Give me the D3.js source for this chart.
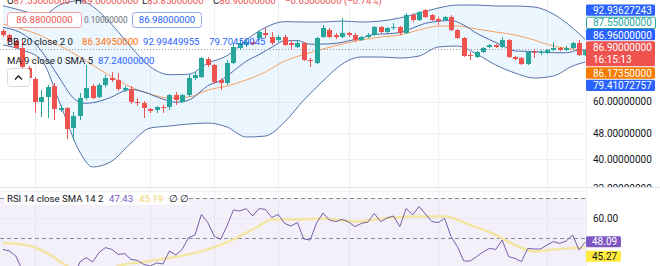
<!DOCTYPE html>
<html>
<head>
<meta charset="utf-8">
<script src="https://cdn.jsdelivr.net/npm/d3@7"></script>
<style>
  html, body { margin: 0; padding: 0; background: #fff; }
  svg { display: block; font-family: Roboto, "Liberation Sans", sans-serif; }
</style>
</head>
<body>
<svg id="chart" width="660" height="266"></svg>
<script>
var opens = [98.73, 95.98, 92.01, 87.58, 76.08, 70.41, 59.87, 62.02, 67.02, 56.60, 57.41, 49.86, 54.26, 61.58, 67.02, 62.02, 67.49, 70.91, 69.91, 65.16,
  65.62, 59.87, 59.45, 57.00, 56.60, 57.81, 57.81, 62.90, 59.87, 62.90, 70.91, 71.41, 81.06, 77.70, 69.91, 68.46, 78.80, 87.58, 89.45, 91.36,
  93.98, 97.35, 94.64, 92.65, 94.64, 90.72, 88.20, 90.72, 80.48, 78.80, 94.64, 99.42, 95.98, 94.64, 97.35, 95.98, 92.65, 94.64, 95.98, 101.55,
  98.04, 100.84, 101.55, 97.35, 110.49, 106.67, 114.45, 110.49, 107.43, 106.67, 108.95, 99.42, 93.98, 83.37, 82.21, 85.15, 88.20, 89.45, 88.20, 92.65,
  82.21, 81.63, 78.25, 85.15, 84.55, 84.55, 86.36, 87.58, 86.36, 87.58, 90.72, 83.37];
var highs = [100.13, 96.66, 92.65, 92.65, 77.16, 71.41, 65.16, 67.49, 68.46, 58.63, 57.81, 55.81, 63.80, 77.70, 67.97, 68.46, 72.42, 73.96, 73.44, 67.02,
  67.02, 61.58, 60.30, 57.41, 58.22, 58.63, 63.35, 64.25, 63.35, 72.42, 73.96, 82.21, 82.21, 78.25, 70.91, 80.48, 90.72, 92.65, 92.65, 92.65,
  99.42, 100.84, 98.04, 95.98, 95.98, 92.65, 92.65, 91.36, 81.63, 94.64, 102.98, 100.84, 97.35, 108.19, 98.04, 97.35, 95.31, 97.35, 102.26, 102.26,
  101.55, 104.44, 102.26, 112.05, 112.05, 113.65, 115.25, 111.28, 108.95, 109.72, 110.49, 100.13, 94.64, 85.15, 85.75, 88.20, 90.08, 90.08, 94.64, 93.32,
  82.79, 82.21, 85.75, 86.97, 86.36, 86.97, 91.36, 88.20, 88.82, 91.36, 92.65, 86.36];
var lows = [94.64, 91.36, 87.20, 75.01, 69.91, 55.42, 53.88, 53.50, 52.75, 55.81, 46.14, 45.82, 52.75, 60.73, 61.15, 61.58, 66.55, 68.94, 64.70, 64.25,
  59.04, 58.22, 53.50, 55.42, 55.42, 55.42, 56.60, 58.63, 59.45, 62.02, 69.91, 70.91, 76.62, 67.97, 65.16, 67.49, 78.25, 86.36, 88.20, 89.45,
  92.65, 93.98, 89.45, 91.36, 88.82, 86.36, 87.58, 79.92, 76.62, 78.25, 93.98, 93.98, 93.32, 93.98, 94.64, 91.36, 92.01, 93.98, 95.31, 97.35,
  97.35, 99.42, 95.98, 96.66, 105.18, 105.92, 108.19, 105.92, 102.98, 105.92, 98.73, 93.32, 82.21, 80.48, 81.63, 84.55, 87.58, 87.58, 87.58, 81.63,
  80.48, 77.70, 77.70, 81.63, 83.37, 83.96, 85.75, 85.75, 85.75, 86.97, 82.79, 82.79];
var closes = [95.98, 92.01, 87.58, 76.62, 70.91, 59.87, 62.02, 66.55, 57.00, 57.41, 49.51, 54.26, 61.58, 66.08, 61.58, 67.49, 70.91, 69.91, 65.62, 66.08,
  59.87, 59.70, 57.41, 56.21, 57.81, 57.41, 62.90, 60.73, 62.90, 70.91, 72.42, 81.63, 77.70, 68.94, 68.46, 78.80, 88.20, 90.72, 91.36, 90.08,
  98.04, 95.98, 90.72, 94.64, 89.45, 89.45, 90.72, 80.48, 80.20, 93.98, 100.84, 94.64, 94.64, 97.35, 95.98, 92.65, 94.64, 95.98, 101.55, 98.04,
  100.84, 101.55, 97.35, 110.49, 106.67, 112.85, 108.95, 106.67, 105.92, 108.95, 99.42, 93.98, 82.79, 83.10, 85.15, 87.58, 89.45, 88.20, 92.65, 82.21,
  81.06, 78.25, 85.15, 84.55, 85.15, 86.36, 87.58, 86.36, 87.58, 90.72, 83.37, 85.75];

// Bollinger bands at these bars
var bandIdx = [0, 3, 6, 9, 12, 14, 17, 20, 23, 26, 29, 32, 35, 38, 41, 44, 47, 50, 53, 56, 59, 62, 65, 68, 71, 74, 77, 80, 83, 86, 89, 91];
var bbUpper = [118.0, 113.9, 110.1, 119.0, 122.3, 117.5, 103.3, 88.2, 76.8, 72.6, 72.8, 78.7, 83.0, 92.8, 101.2, 105.5,
  105.18, 105.18, 105.92, 105.18, 105.92, 108.19, 112.05, 116.07, 118.55, 118.55, 117.72, 117.72, 116.89, 111.28, 100.84, 92.94];
var bbBasis = [103.71, 100.13, 95.31, 88.82, 82.21, 77.70, 71.41, 66.55, 63.35, 61.58, 62.02, 65.16, 67.02, 69.91, 73.96, 79.92,
  83.66, 86.97, 90.08, 92.65, 94.64, 95.98, 99.42, 102.26, 102.26, 100.13, 98.04, 95.98, 92.65, 88.82, 86.97, 86.17];
var bbLower = [89.45, 86.36, 80.48, 58.63, 42.1, 37.9, 39.5, 44.86, 49.86, 50.56, 51.28, 51.64, 50.21, 46.80, 47.13, 52.01,
  60.73, 69.43, 78.25, 82.21, 82.21, 81.63, 82.79, 88.20, 88.82, 83.96, 77.70, 73.44, 70.91, 71.91, 77.16, 79.41];

var maIdx = [0, 2, 3, 5, 7, 9, 11, 12, 13, 15, 17, 19, 20, 22, 25, 27, 29, 31, 32, 34, 36, 38, 40, 42, 44, 46, 48, 50, 52, 54,
  56, 58, 60, 62, 64, 66, 68, 70, 72, 74, 76, 78, 80, 82, 84, 86, 88, 90, 91];
var maValues = [101.3, 99.0, 97.0, 90.5, 80.5, 70.0, 61.57, 59.8, 59.36, 60.16, 62.08, 64.83, 65.46, 64.29, 61.1, 59.79, 60.66, 64.77, 67.16, 69.62,
  74.44, 79.8, 83.59, 88.04, 92.13, 92.27, 89.96, 90.05, 90.49, 92.09, 93.88, 96.47, 96.85, 97.62, 100.79, 104.25, 105.7, 106.36, 102.91, 97.2,
  92.93, 89.15, 85.8, 85.52, 85.19, 84.77, 84.67, 86.31, 86.38];

var rsiValues = [44.3, 43.5, 41, 34, 28, 22, 26, 30, 25, 26, 21, 28, 38, 40.2, 38, 42.7, 45.2, 44.3, 41.8, 42.2,
  39.3, 38.8, 36.8, 36, 37.5, 37, 43.5, 41.5, 44.3, 50.2, 51.5, 61.8, 57.7, 51, 49.3, 56, 64, 63.5, 64.7, 61,
  64.7, 64.3, 60.2, 61.8, 57.3, 56, 57.7, 49.5, 49, 57.5, 62.5, 59, 58.2, 59.3, 58, 55.7, 57.3, 58, 62.3, 58.2,
  60, 61, 55.7, 64.8, 61.5, 65.7, 62, 58.2, 57.7, 59.8, 50.7, 45.7, 38.5, 38.5, 40.7, 43, 44.8, 44.3, 49, 40.7,
  39.8, 38.2, 44.8, 44.5, 44.5, 46.5, 48.2, 47.3, 48.5, 51.5, 44, 48.09];
var rsiMaIdx = [0, 4, 7, 10, 13, 16, 18, 23, 28, 32, 36, 40, 42, 46, 50, 55, 60, 66, 69, 73, 77, 80, 83, 87, 91];
var rsiMaValues = [47.5, 46.2, 42.3, 36, 32, 33, 36, 38.5, 41.2, 44.3, 49.3, 56, 59.3, 59.3, 59.8, 58.2, 60, 60.7, 60.7, 56.5, 51.5, 46.5, 43.3, 44.5, 45.27];

var priceTicks = [60, 48, 40, 32];
var timeTicks = [5, 23, 33, 43, 54, 68, 85];
var rsiLevels = [70, 50, 30];
var rsiTicks = [60];
var priceMarks = [92.93627243, 87.55, 86.96, 86.90, 86.1735, 79.41072757];
var rsiMarks = [48.09, 45.27];
var countdown = '16:15:13';
var bidAsk = [86.88, 0.10, 86.98];
var ohlc = [['O', 87.55], ['H', 89.00], ['L', 85.85], ['C', 86.90]];
var change = [-0.65, -0.74];
var bbLegend = [86.3495, 92.99449955, 79.70450045];
var maLegend = 87.24;
var rsiLegend = [47.43, 45.19];

var PLOT_RIGHT = 586;
var PRICE_BOTTOM = 187;
var UP = '#26a69a', DOWN = '#ef5350';
var BLUE = '#2962ff', BAND = '#5674a8', ORANGE = '#f7a25e';
var TEXT = '#131722';
var fmt8 = d3.format('.8f'), fmt2 = d3.format('.2f');

var svg = d3.select('#chart');

var x = d3.scaleLinear().domain([0, closes.length - 1]).range([3, 585.4]);
var y = d3.scaleLog().domain([32, 120]).range([191, 3.3]);
var yRsi = d3.scaleLinear().domain([30, 70]).range([278, 198]);

svg.append('clipPath').attr('id', 'clipPrice').append('rect')
  .attr('x', 0).attr('y', 0).attr('width', PLOT_RIGHT).attr('height', PRICE_BOTTOM);
svg.append('clipPath').attr('id', 'clipRsi').append('rect')
  .attr('x', 0).attr('y', PRICE_BOTTOM).attr('width', PLOT_RIGHT).attr('height', 266 - PRICE_BOTTOM);
svg.append('clipPath').attr('id', 'clipAxis').append('rect')
  .attr('x', PLOT_RIGHT).attr('y', 0).attr('width', 660 - PLOT_RIGHT).attr('height', PRICE_BOTTOM);

// grid
var grid = svg.append('g').attr('stroke', '#eef0f4').attr('stroke-width', 1);
grid.selectAll('.vgrid').data(timeTicks).enter().append('line')
  .attr('x1', function(d) { return Math.round(x(d)) + 0.5; })
  .attr('x2', function(d) { return Math.round(x(d)) + 0.5; })
  .attr('y1', 0).attr('y2', 266);
grid.selectAll('.hgrid').data(priceTicks).enter().append('line')
  .attr('x1', 0).attr('x2', PLOT_RIGHT)
  .attr('y1', function(d) { return Math.round(y(d)) + 0.5; })
  .attr('y2', function(d) { return Math.round(y(d)) + 0.5; });

// price pane
var price = svg.append('g').attr('clip-path', 'url(#clipPrice)');

var bands = bandIdx.map(function(d, i) {
  return { i: d, up: bbUpper[i], mid: bbBasis[i], lo: bbLower[i] };
});
var curve = d3.curveMonotoneX;

price.append('path')
  .datum(bands)
  .attr('fill', 'rgba(33,150,243,0.09)')
  .attr('d', d3.area().curve(curve)
    .x(function(d) { return x(d.i); })
    .y0(function(d) { return y(d.lo); })
    .y1(function(d) { return y(d.up); }));

['up', 'lo'].forEach(function(k) {
  price.append('path')
    .datum(bands)
    .attr('fill', 'none')
    .attr('stroke', BAND)
    .attr('stroke-width', 1)
    .attr('d', d3.line().curve(curve)
      .x(function(d) { return x(d.i); })
      .y(function(d) { return y(d[k]); }));
});

price.append('path')
  .datum(bands)
  .attr('fill', 'none')
  .attr('stroke', ORANGE)
  .attr('stroke-width', 1)
  .attr('d', d3.line().curve(curve)
    .x(function(d) { return x(d.i); })
    .y(function(d) { return y(d.mid); }));

price.append('path')
  .datum(maIdx.map(function(d, i) { return [d, maValues[i]]; }))
  .attr('fill', 'none')
  .attr('stroke', '#4d6aa8')
  .attr('stroke-width', 1)
  .attr('d', d3.line().curve(curve)
    .x(function(d) { return x(d[0]); })
    .y(function(d) { return y(d[1]); }));

// dotted price line
price.append('line')
  .attr('x1', 0).attr('x2', PLOT_RIGHT)
  .attr('y1', Math.round(y(priceMarks[2])) + 0.5)
  .attr('y2', Math.round(y(priceMarks[2])) + 0.5)
  .attr('stroke', '#9598a1')
  .attr('stroke-dasharray', '1,2');

// candles
var candles = closes.map(function(c, i) {
  return { i: i, o: opens[i], h: highs[i], l: lows[i], c: c };
});
var candle = price.selectAll('.candle')
  .data(candles)
  .enter()
  .append('g')
  .attr('class', 'candle')
  .attr('fill', function(d) { return d.c >= d.o ? UP : DOWN; })
  .attr('stroke', function(d) { return d.c >= d.o ? UP : DOWN; });

candle.append('line')
  .attr('x1', function(d) { return Math.round(x(d.i)) + 0.5; })
  .attr('x2', function(d) { return Math.round(x(d.i)) + 0.5; })
  .attr('y1', function(d) { return y(d.h); })
  .attr('y2', function(d) { return y(d.l); })
  .attr('stroke-width', 1);

candle.append('rect')
  .attr('stroke', 'none')
  .attr('x', function(d) { return Math.round(x(d.i)) - 2; })
  .attr('width', 5)
  .attr('y', function(d) { return y(Math.max(d.o, d.c)); })
  .attr('height', function(d) { return Math.max(1, Math.abs(y(d.o) - y(d.c))); });

// rsi pane
var rsi = svg.append('g').attr('clip-path', 'url(#clipRsi)');

rsi.append('rect')
  .attr('x', 0).attr('width', PLOT_RIGHT)
  .attr('y', yRsi(70)).attr('height', yRsi(30) - yRsi(70))
  .attr('fill', 'rgba(126,87,194,0.09)');

rsi.selectAll('.rgrid').data(rsiTicks).enter().append('line')
  .attr('x1', 0).attr('x2', PLOT_RIGHT)
  .attr('y1', function(d) { return Math.round(yRsi(d)) + 0.5; })
  .attr('y2', function(d) { return Math.round(yRsi(d)) + 0.5; })
  .attr('stroke', '#ebe8f3');

rsi.selectAll('.level').data(rsiLevels).enter().append('line')
  .attr('x1', 0).attr('x2', PLOT_RIGHT)
  .attr('y1', function(d) { return Math.round(yRsi(d)) + 0.5; })
  .attr('y2', function(d) { return Math.round(yRsi(d)) + 0.5; })
  .attr('stroke', '#8a8d96')
  .attr('stroke-dasharray', '4,3');

rsi.append('path')
  .datum(rsiMaIdx.map(function(d, i) { return [d, rsiMaValues[i]]; }))
  .attr('fill', 'none')
  .attr('stroke', '#f3e6a2')
  .attr('stroke-width', 2.5)
  .attr('d', d3.line().curve(curve)
    .x(function(d) { return x(d[0]); })
    .y(function(d) { return yRsi(d[1]); }));

rsi.append('path')
  .datum(rsiValues)
  .attr('fill', 'none')
  .attr('stroke', '#7460a8')
  .attr('stroke-width', 1)
  .attr('d', d3.line()
    .x(function(d, i) { return x(i); })
    .y(function(d) { return yRsi(d); }));

// legends
var legend = svg.append('g').attr('font-size', '9.6px');

// header row: letters dark, values red
var headX = [7, 75, 142, 213];
ohlc.forEach(function(d, i) {
  var t = legend.append('text').attr('x', headX[i]).attr('y', 4).attr('fill', DOWN);
  t.append('tspan').attr('fill', TEXT).text(d[0]);
  t.append('tspan').text(fmt8(d[1]));
});
legend.append('text').attr('x', 285).attr('y', 4).attr('fill', DOWN)
  .text(fmt8(change[0]).replace('-', '\u2212') + ' (' + fmt2(change[1]).replace('-', '\u2212') + '%)');

legend.append('rect')
  .attr('x', 7.5).attr('y', 12.5).attr('width', 74).attr('height', 15).attr('rx', 3)
  .attr('fill', '#fff').attr('stroke', '#f2a3a1');
legend.append('text')
  .attr('x', 44.5).attr('y', 20).attr('dy', '0.35em').attr('text-anchor', 'middle')
  .attr('fill', DOWN).text(fmt8(bidAsk[0]));
legend.append('text')
  .attr('x', 84).attr('y', 20).attr('dy', '0.35em')
  .attr('font-size', '8.2px').attr('fill', '#6a6d78').text(fmt8(bidAsk[1]));
legend.append('rect')
  .attr('x', 132.5).attr('y', 12.5).attr('width', 69).attr('height', 15).attr('rx', 3)
  .attr('fill', '#fff').attr('stroke', '#93a9ee');
legend.append('text')
  .attr('x', 167).attr('y', 20).attr('dy', '0.35em').attr('text-anchor', 'middle')
  .attr('fill', BLUE).text(fmt8(bidAsk[2]));

// one legend line: label then values at given x, each with its colour
function legendRow(yPos, parts) {
  parts.forEach(function(p) {
    legend.append('text')
      .attr('x', p[0]).attr('y', yPos).attr('dy', '0.35em')
      .attr('fill', p[2]).text(p[1]);
  });
}
legendRow(42, [[7, 'BB 20 close 2 0', TEXT], [82, fmt8(bbLegend[0]), '#ff6d00'],
  [143, fmt8(bbLegend[1]), BLUE], [209, fmt8(bbLegend[2]), BLUE]]);
legendRow(61, [[7, 'MA 9 close 0 SMA 5', TEXT], [98, fmt8(maLegend), BLUE]]);

var btn = legend.append('g');
btn.append('rect')
  .attr('x', 7.5).attr('y', 68.5).attr('width', 22).attr('height', 18).attr('rx', 3)
  .attr('fill', '#fff').attr('stroke', '#d8dbe2');
btn.append('path')
  .attr('d', 'M15,79.5L18.5,76L22,79.5')
  .attr('fill', 'none').attr('stroke', TEXT).attr('stroke-width', 1.3);

legend.append('rect')
  .attr('x', 4).attr('y', 193).attr('width', 185).attr('height', 12)
  .attr('fill', 'rgba(255,255,255,0.85)');
legendRow(199, [[7, 'RSI 14 close SMA 14 2', TEXT], [109, fmt2(rsiLegend[0]), '#7e57c2'],
  [139, fmt2(rsiLegend[1]), '#f0d66a'], [169, '\u2205', TEXT], [180, '\u2205', TEXT]]);

// axis area
var axis = svg.append('g').attr('font-size', '10px');
axis.append('rect').attr('x', PLOT_RIGHT).attr('y', 0).attr('width', 660 - PLOT_RIGHT).attr('height', 266).attr('fill', '#fff');
axis.append('line').attr('x1', PLOT_RIGHT + 0.5).attr('x2', PLOT_RIGHT + 0.5).attr('y1', 0).attr('y2', 266).attr('stroke', '#eceef2');
svg.append('line').attr('x1', 0).attr('x2', 660).attr('y1', PRICE_BOTTOM + 0.5).attr('y2', PRICE_BOTTOM + 0.5).attr('stroke', '#e0e3eb');

var priceAxis = axis.append('g').attr('clip-path', 'url(#clipAxis)');
priceAxis.selectAll('.tick').data(priceTicks).enter().append('text')
  .attr('x', 593)
  .attr('y', function(d, i) { return i === priceTicks.length - 1 ? PRICE_BOTTOM + 1 : y(d); })
  .attr('dy', '0.35em')
  .attr('fill', TEXT)
  .text(fmt8);

// stacked marker labels, centred on the mean of their positions
var markStyle = [
  { bg: BLUE, fg: '#fff' },
  { bg: '#fff', fg: UP, border: UP },
  { bg: BLUE, fg: '#fff' },
  { bg: DOWN, fg: '#fff', extra: countdown },
  { bg: '#f57c00', fg: '#fff' },
  { bg: BLUE, fg: '#fff' }
];
var heights = priceMarks.map(function(d, i) { return markStyle[i].extra ? 26 : 12.3; });
var stackTop = d3.mean(priceMarks, function(d) { return y(d); }) - d3.sum(heights) / 2 - 1.5;
priceMarks.forEach(function(v, i) {
  var s = markStyle[i];
  var g = axis.append('g');
  g.append('rect')
    .attr('x', PLOT_RIGHT + (s.border ? 0.5 : 0)).attr('y', stackTop + (s.border ? 0.5 : 0))
    .attr('width', 69).attr('height', heights[i] - 1).attr('rx', 1.5)
    .attr('fill', s.bg).attr('stroke', s.border || 'none');
  g.append('text').attr('x', 593).attr('y', stackTop + 6).attr('dy', '0.35em').attr('fill', s.fg).text(fmt8(v));
  if (s.extra) {
    g.append('text').attr('x', 593).attr('y', stackTop + 18.5).attr('dy', '0.35em').attr('fill', s.fg).text(s.extra);
  }
  stackTop += heights[i];
});

axis.selectAll('.rtick').data(rsiTicks).enter().append('text')
  .attr('x', 593).attr('y', function(d) { return yRsi(d); }).attr('dy', '0.35em')
  .attr('fill', TEXT).text(fmt2);

var rsiStyle = [{ bg: '#7e57c2', fg: '#fff' }, { bg: '#ffeb3b', fg: TEXT }];
var prevBottom = -Infinity;
rsiMarks.forEach(function(v, i) {
  var c = Math.max(yRsi(v), prevBottom + 3.5 + 5.5);
  axis.append('rect')
    .attr('x', PLOT_RIGHT).attr('y', c - 5.5).attr('width', 35).attr('height', 11).attr('rx', 1.5)
    .attr('fill', rsiStyle[i].bg);
  axis.append('text')
    .attr('x', 592).attr('y', c).attr('dy', '0.35em').attr('fill', rsiStyle[i].fg).text(fmt2(v));
  prevBottom = c + 5.5;
});
</script>
</body>
</html>
